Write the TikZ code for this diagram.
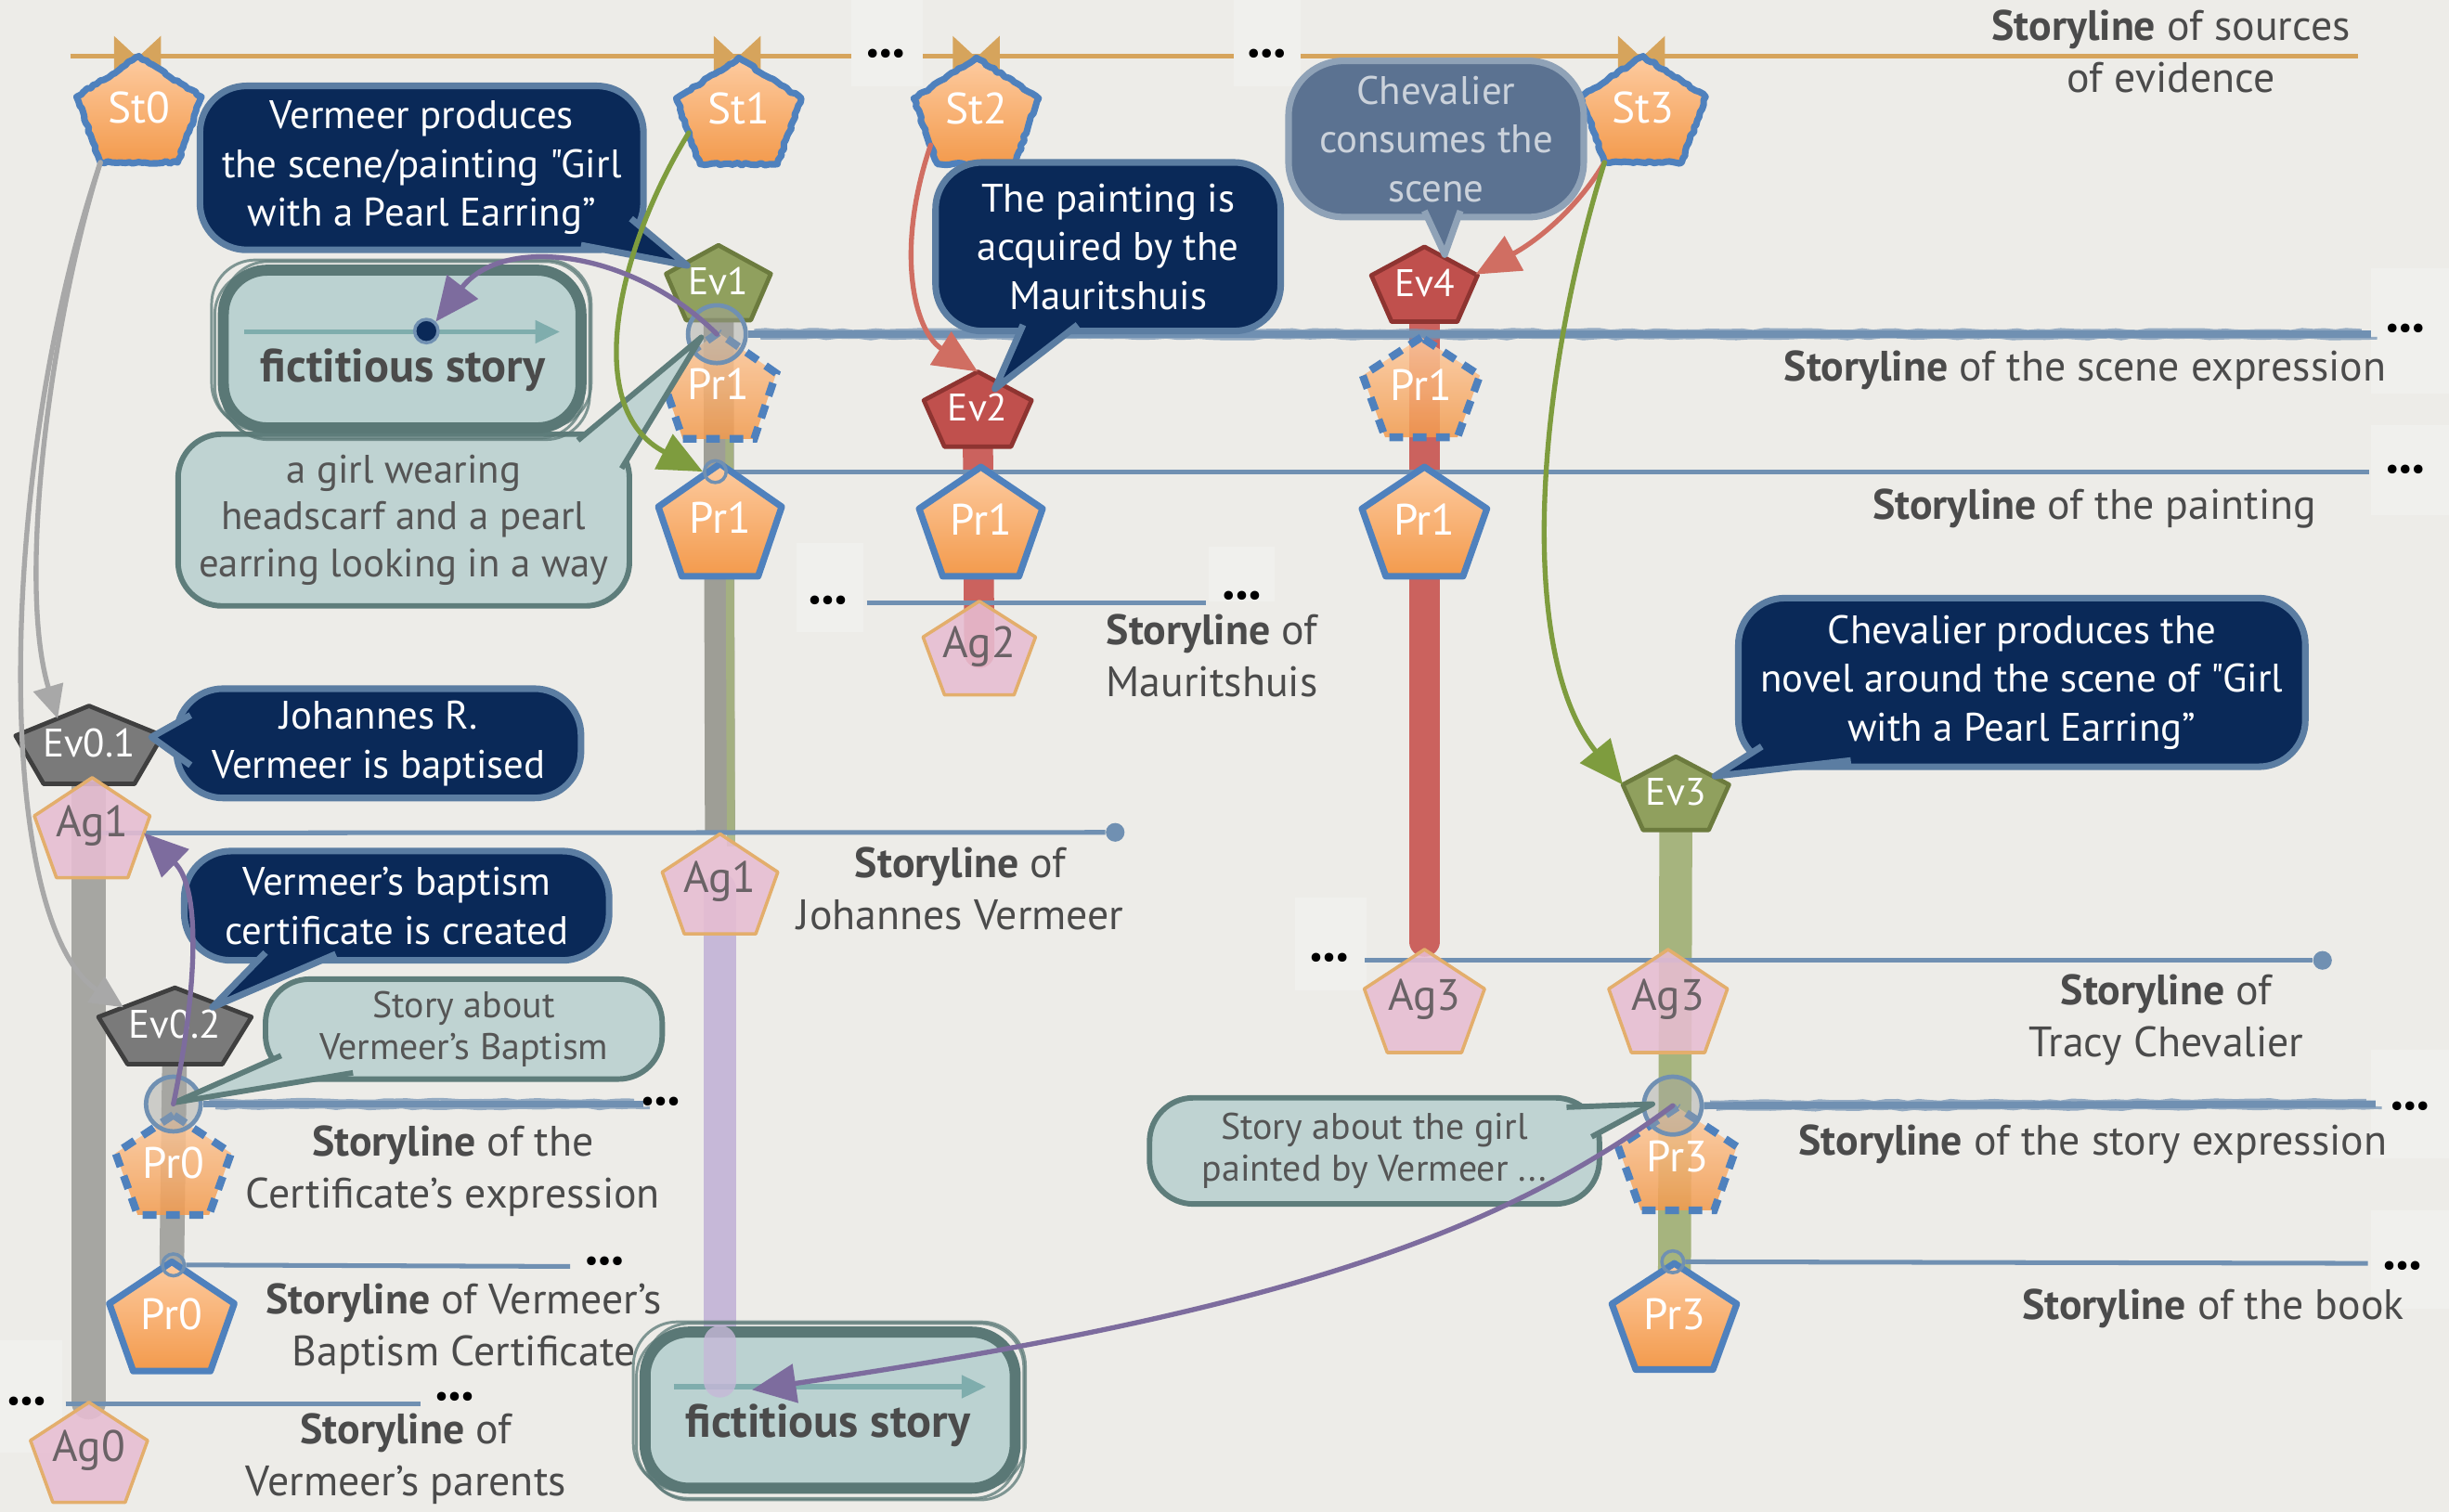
\documentclass[tikz,border=0pt]{standalone}
\usepackage{fontspec}
\setmainfont{PT Sans}[Ligatures=TeXOff]
\usetikzlibrary{shapes.geometric,arrows.meta,decorations.pathmorphing,calc}

\definecolor{paper}{HTML}{EDECE8}
\definecolor{inkgrey}{HTML}{4B4B4B}
\definecolor{slblue}{HTML}{7090B2}
\definecolor{officeblue}{HTML}{4F81BD}
\definecolor{orangetop}{HTML}{FDCBA0}
\definecolor{orangebot}{HTML}{F39A4C}
\definecolor{evredc}{HTML}{C0504D}
\definecolor{evredd}{HTML}{8E3431}
\definecolor{evgreenc}{HTML}{90A05E}
\definecolor{evgreend}{HTML}{6C7B3E}
\definecolor{evgreyc}{HTML}{7A7A7A}
\definecolor{evgreyd}{HTML}{3F3F3F}
\definecolor{agpink}{HTML}{E7BDD2}
\definecolor{agtan}{HTML}{E3AE6C}
\definecolor{agtext}{HTML}{6A6266}
\definecolor{navyc}{HTML}{0A2958}
\definecolor{navyedge}{HTML}{5B7DA2}
\definecolor{slatec}{HTML}{5B7291}
\definecolor{slateedge}{HTML}{8FA2B7}
\definecolor{slatetext}{HTML}{CBD2DB}
\definecolor{tealc}{HTML}{BFD3D2}
\definecolor{tealedge}{HTML}{5E7D7B}
\definecolor{tealtext}{HTML}{555555}
\definecolor{fictfill}{HTML}{BBD2D1}
\definecolor{fictedge}{HTML}{5A7876}
\definecolor{fictarrow}{HTML}{7FADAD}
\definecolor{tancol}{HTML}{D6A45C}
\definecolor{ribgrey}{HTML}{A6A6A2}
\definecolor{ribgreyb}{HTML}{9E9E96}
\definecolor{ribred}{HTML}{CB625E}
\definecolor{ribgreen}{HTML}{A6B47E}
\definecolor{riblav}{HTML}{C6B8D8}
\definecolor{arrgrey}{HTML}{A8A8A8}
\definecolor{arrgreen}{HTML}{7E9C3E}
\definecolor{arrred}{HTML}{D06E62}
\definecolor{arrpurple}{HTML}{7D6C9E}

\pgfdeclarelayer{paperlayer}
\pgfdeclarelayer{background}
\pgfsetlayers{paperlayer,background,main}

\tikzset{
  pent/.style={regular polygon, regular polygon sides=5, minimum size=2cm,
    inner sep=0pt, outer sep=0pt, transform shape},
  stnode/.style={pent, top color=orangetop, bottom color=orangebot,
    draw=officeblue, line width=2.4pt, line join=round, decorate,
    decoration={random steps, segment length=1.5pt, amplitude=0.45pt}},
  stnode text/.style={text=white, font=\fontsize{16}{16}\selectfont},
  prsolid/.style={pent, top color=orangetop, bottom color=orangebot,
    draw=officeblue, line width=2.4pt, line join=round},
  prsolid text/.style={text=white, font=\fontsize{16}{16}\selectfont},
  prdash/.style={pent, top color=orangetop, bottom color=orangebot,
    fill opacity=0.85, draw=officeblue, line width=2.8pt,
    dash pattern=on 5pt off 3.5pt},
  prdash text/.style={text=white, font=\fontsize{16}{16}\selectfont},
  evgreen/.style={pent, fill=evgreenc, draw=evgreend, line width=1.6pt, line join=round},
  evgreen text/.style={text=white, font=\fontsize{14}{14}\selectfont},
  evred/.style={pent, fill=evredc, draw=evredd, line width=1.6pt, line join=round},
  evred text/.style={text=white, font=\fontsize{14}{14}\selectfont},
  evgrey/.style={pent, fill=evgreyc, draw=evgreyd, line width=1.6pt, line join=round},
  evgrey text/.style={text=white, font=\fontsize{14.5}{14.5}\selectfont},
  agnode/.style={pent, fill=agpink, fill opacity=0.88, draw=agtan, line width=1.2pt, line join=round},
  agnode text/.style={text=agtext, font=\fontsize{16}{16}\selectfont},
  navybox/.style={fill=navyc, draw=navyedge, line width=2.4pt, rounded corners=17pt,
    text=white, align=center, inner sep=0pt, font=\fontsize{14.5}{17.8}\selectfont},
  navyptr/.style={fill=navyc, draw=navyedge, line width=2.4pt, line join=round},
  slatebox/.style={fill=slatec, draw=slateedge, line width=2.4pt, rounded corners=20pt,
    text=slatetext, align=center, inner sep=0pt, font=\fontsize{14.5}{17.8}\selectfont},
  slateptr/.style={fill=slatec, draw=slateedge, line width=2.4pt, line join=round},
  tealbox/.style={fill=tealc, draw=tealedge, line width=2pt, rounded corners=16pt,
    text=tealtext, align=center, inner sep=0pt, font=\fontsize{14.5}{17}\selectfont},
  tealptr/.style={fill=tealc, draw=tealedge, line width=2pt, line join=round},
  fictbox/.style={fill=fictfill, draw=fictedge, line width=4pt, rounded corners=16pt, inner sep=0pt},
  fictstroke/.style={fictedge, line width=1pt, opacity=0.75, rounded corners=16pt},
  fictlabel/.style={text=inkgrey, font=\bfseries\fontsize{17}{17}\selectfont, inner sep=0pt},
  fictline/.style={fictarrow, line width=2pt, -{Triangle[length=9pt,width=8pt]}},
  slabel/.style={text=inkgrey, align=center, inner sep=0pt, font=\fontsize{15.5}{19}\selectfont},
  more/.style={text=black, inner sep=0pt, font=\bfseries\fontsize{10.5}{10.5}\selectfont},
  storyline/.style={slblue, line width=1.7pt},
  roughline/.style={slblue, decorate,
    decoration={random steps, segment length=4pt, amplitude=0.35pt}},
  junction/.style={circle, draw=slblue, line width=1.6pt, fill=ribgrey, fill opacity=0.45,
    minimum size=0.74cm, inner sep=0pt},
  smalljunction/.style={circle, draw=slblue, line width=1.2pt, minimum size=0.28cm, inner sep=0pt},
  lineend/.style={circle, fill=slblue, minimum size=0.24cm, inner sep=0pt},
  ribbon/.style={line width=#1, line cap=round},
  crayon/.style={line width=1.8pt, line cap=round},
  bigtip/.style={-{Triangle[length=16pt,width=14pt]}},
  smalltip/.style={-{Triangle[length=12pt,width=11pt]}},
}

% pentagon: name, style, x, y (box centre), width, height, text
\newcommand{\pentnode}[7]{%
  \begin{scope}[shift={({#3},{#4+0.053*#6})}]
    \node[#2, xscale={#5*0.02/1.902}, yscale={#6*0.02/1.809}] (#1) at (0,0) {};
  \end{scope}
  \node[#2 text] (#1-label) at ({#3},{#4-0.02*#6}) {#7};
}

\begin{document}
\begin{tikzpicture}[x=0.02cm, y=-0.02cm]

\begin{pgfonlayer}{paperlayer}
  \fill[paper] (0,0) rectangle (1568,968);
  \foreach \a/\b/\c/\d in {545/0/591/55, 790/0/833/55, 510/348/553/405,
      774/350/816/385, 829/575/875/634, 1518/172/1568/252, 1518/272/1568/330,
      1518/672/1568/742, 1518/775/1568/838, 0/858/40/930}
    \fill[white, opacity=0.22] (\a,\b) rectangle (\c,\d);
\end{pgfonlayer}
\useasboundingbox (0,0) rectangle (1568,968);

% ---------- storyline of sources of evidence ----------
\draw[tancol, line width=1.8pt] (45,36) -- (545,36);
\draw[tancol, line width=1.8pt] (591,36) -- (790,36);
\draw[tancol, line width=1.8pt] (833,36) -- (1510,36);
\foreach \x in {88,472,625,1051} {
  \fill[tancol] (\x-15,23) -- (\x-1,36) -- (\x-15,47) -- cycle;
  \fill[tancol] (\x+15,23) -- (\x+1,36) -- (\x+15,47) -- cycle;
}
\node[more] (m-top1) at (567,36) {•••};
\node[more] (m-top2) at (811,36) {•••};

% ---------- nodes ----------
\pentnode{st0}{stnode}{89}{70}{80}{68}{St0}
\pentnode{st1}{stnode}{473}{71}{80}{68}{St1}
\pentnode{st2}{stnode}{625}{71}{80}{68}{St2}
\pentnode{st3}{stnode}{1052}{70}{80}{68}{St3}

\pentnode{ev1}{evgreen}{460}{181}{67}{48}{Ev1}
\pentnode{ev2}{evred}{626}{262}{69}{48}{Ev2}
\pentnode{ev4}{evred}{912}{182}{68}{48}{Ev4}
\pentnode{ev3}{evgreen}{1073}{508}{68}{47}{Ev3}
\pentnode{ev01}{evgrey}{57}{477}{94}{50}{Ev0.1}
\pentnode{ev02}{evgrey}{112}{657}{98}{49}{Ev0.2}

\pentnode{pr1a}{prdash}{460}{247}{74}{68}{Pr1}
\pentnode{pr1c}{prdash}{910}{248}{75}{64}{Pr1}
\pentnode{pr0a}{prdash}{111}{746}{74}{64}{Pr0}
\pentnode{pr3a}{prdash}{1074}{742}{76}{66}{Pr3}

\pentnode{pr1p}{prsolid}{461}{333}{79}{72}{Pr1}
\pentnode{pr1q}{prsolid}{628}{334}{79}{70}{Pr1}
\pentnode{pr1r}{prsolid}{912}{334}{80}{70}{Pr1}
\pentnode{pr0b}{prsolid}{110}{843}{80}{70}{Pr0}
\pentnode{pr3b}{prsolid}{1072}{843}{80}{68}{Pr3}

\pentnode{ag2}{agnode}{627}{415}{72}{60}{Ag2}
\pentnode{ag1a}{agnode}{461}{566}{74}{64}{Ag1}
\pentnode{ag1b}{agnode}{59}{530}{74}{64}{Ag1}
\pentnode{ag0}{agnode}{57}{930}{75}{64}{Ag0}
\pentnode{ag3a}{agnode}{912}{641}{77}{66}{Ag3}
\pentnode{ag3b}{agnode}{1068}{641}{76}{66}{Ag3}

% ---------- junction circles and line ends ----------
\node[junction] (j-ev1) at (459,214) {};
\node[junction, minimum size=0.7cm] (j-pr0) at (111,707) {};
\node[junction] (j-pr3) at (1071,708) {};
\node[smalljunction] (j-paint) at (458,302) {};
\node[smalljunction] (j-cert) at (111,810) {};
\node[smalljunction] (j-book) at (1071,808) {};
\node[lineend] (jv-end) at (714,533) {};
\node[lineend] (tc-end) at (1487,615) {};

\coordinate (scene-end) at (1518,214);
\coordinate (paint-end) at (1517,302);
\coordinate (maur-start) at (555,386);
\coordinate (maur-end) at (772,386);
\coordinate (tc-start) at (874,615);
\coordinate (cert-end) at (412,707);
\coordinate (bapt-end) at (365,811);
\coordinate (par-start) at (42,899);
\coordinate (par-end) at (269,899);
\coordinate (story-end) at (1521,707);
\coordinate (book-end) at (1516,809);

% ---------- storylines and ribbons (behind nodes) ----------
\begin{pgfonlayer}{background}
  % life ribbons
  \draw[ribgrey, ribbon=12.5pt] (ev01.center) -- (ag0.north);
  \draw[ribgrey, ribbon=9pt] (ev02.center) -- (pr0b.north);
  \draw[ribgreyb, ribbon=11pt, line cap=butt] (ev1.center) -- (ag1a.north);
  \draw[ribgreen, line width=3pt, opacity=0.85] ($(pr1a.south)+(7,0)$) -- ($(ag1a.north)+(7,8)$);
  \draw[riblav, ribbon=12pt] (ag1a.center) -- ($(ag1a.center)+(0,315)$);
  \draw[ribred, ribbon=11pt] (ev2.center) -- (ag2.center);
  \draw[ribred, ribbon=11pt] (ev4.center) -- ($(ag3a.north)+(0,-5)$);
  \draw[ribgreen, ribbon=12pt] (ev3.center) -- (pr3b.center);

  % brushed storylines of the expressions
  \foreach \from/\to in {j-ev1/scene-end, j-pr0/cert-end, j-pr3/story-end} {
    \draw[slblue, line width=2.6pt] (\from.east) -- (\to);
    \draw[roughline, line width=1pt, opacity=0.7] ($(\from.east)+(4,-2.5)$) -- ($(\to)+(-6,-2.5)$);
    \draw[roughline, line width=1pt, opacity=0.7] ($(\from.east)+(8,2.5)$) -- ($(\to)+(4,2.5)$);
  }
  \draw[storyline] (j-paint) -- (paint-end);
  \draw[storyline] (maur-start) -- (maur-end);
  \draw[storyline] (ag1b.center) -- (jv-end);
  \draw[storyline] (tc-start) -- (tc-end);
  \draw[storyline] (j-cert) -- (bapt-end);
  \draw[storyline] (par-start) -- (par-end);
  \draw[storyline] (j-book) -- (book-end);
\end{pgfonlayer}

\node[more] (m-scene) at (1540,212) {•••};
\node[more] (m-paint) at (1540,302) {•••};
\node[more] (m-maur1) at (530,386) {•••};
\node[more] (m-maur2) at (795,383) {•••};
\node[more] (m-tc) at (851,615) {•••};
\node[more] (m-cert) at (423,707) {•••};
\node[more] (m-bapt) at (387,809) {•••};
\node[more] (m-par1) at (17,899) {•••};
\node[more] (m-par2) at (291,896) {•••};
\node[more] (m-story) at (1543,710) {•••};
\node[more] (m-book) at (1538,812) {•••};

% ---------- storyline labels ----------
\node[slabel] (lab-src) at (1390,33) {\textbf{Storyline} of sources\\of evidence};
\node[slabel] (lab-scene) at (1335,237) {\textbf{Storyline} of the scene expression};
\node[slabel] (lab-paint) at (1341,326) {\textbf{Storyline} of the painting};
\node[slabel] (lab-maur) at (776,420) {\textbf{Storyline} of\\Mauritshuis};
\node[slabel] (lab-jv) at (615,569) {\textbf{Storyline} of\\Johannes Vermeer};
\node[slabel] (lab-tc) at (1387,653) {\textbf{Storyline} of\\Tracy Chevalier};
\node[slabel] (lab-cert) at (290,750) {\textbf{Storyline} of the\\Certificate’s expression};
\node[slabel] (lab-bapt) at (297,851) {\textbf{Storyline} of Vermeer’s\\Baptism Certificate};
\node[slabel] (lab-par) at (260,934) {\textbf{Storyline} of\\Vermeer’s parents};
\node[slabel] (lab-story) at (1340,733) {\textbf{Storyline} of the story expression};
\node[slabel] (lab-book) at (1417,838) {\textbf{Storyline} of the book};

% ---------- callouts ----------
\node[navybox, minimum width={284*0.02cm}, minimum height={105*0.02cm}] (c-produce) at (270,107.5)
  {Vermeer produces\\the scene/painting "Girl\\with a Pearl Earring”};
\filldraw[navyptr] (372,157) -- (440,170) -- (404,140);

\node[navybox, minimum width={221*0.02cm}, minimum height={108*0.02cm}] (c-acquire) at (709.5,158)
  {The painting is\\acquired by the\\Mauritshuis};
\filldraw[navyptr] (655,208) -- (637,249) -- (690,208);

\node[slatebox, minimum width={189*0.02cm}, minimum height={100*0.02cm}] (c-consume) at (919.5,89)
  {Chevalier\\consumes the\\scene};
\filldraw[slateptr] (912,135) -- (925,163) -- (935,135);

\node[navybox, minimum width={259*0.02cm}, minimum height={70*0.02cm}] (c-baptised) at (242.5,476)
  {Johannes R.\\Vermeer is baptised};
\filldraw[navyptr] (122,458) -- (97,472) -- (122,490);

\node[navybox, minimum width={272*0.02cm}, minimum height={70*0.02cm}] (c-certificate) at (254,580)
  {Vermeer’s baptism\\certificate is created};
\filldraw[navyptr] (170,610) -- (136,645) -- (215,611);

\node[navybox, minimum width={363*0.02cm}, minimum height={108*0.02cm}] (c-novel) at (1294.5,437)
  {Chevalier produces the\\novel around the scene of "Girl\\with a Pearl Earring”};
\filldraw[navyptr] (1128,478) -- (1098,497) -- (1185,487);

\node[tealbox, minimum width={289*0.02cm}, minimum height={110*0.02cm}] (c-girl) at (258.5,333)
  {a girl wearing\\headscarf and a pearl\\earring looking in a way};
\filldraw[tealptr] (370,282) -- (449,216) -- (398,300);

\node[tealbox, font=\fontsize{13.5}{15.5}\selectfont, minimum width={254*0.02cm}, minimum height={64*0.02cm}] (c-bstory) at (297,659)
  {Story about\\Vermeer’s Baptism};
\filldraw[tealptr] (180,676) -- (112,706) -- (226,687);

\node[tealbox, font=\fontsize{13.5}{15.5}\selectfont, minimum width={288*0.02cm}, minimum height={68*0.02cm}] (c-gstory) at (880,737)
  {Story about the girl\\painted by Vermeer ...};
\filldraw[tealptr] (1003,709) -- (1058,707) -- (1019,728);

% ---------- fictitious story boxes ----------
\node[fictbox, minimum width={229*0.02cm}, minimum height={101*0.02cm}] (f1) at (257.5,223.5) {};
\foreach \dx/\dy in {-4/-3, 3/2, -2/4, 4/-2}
  \draw[fictstroke] ($(f1.north west)+(\dx,\dy)$) rectangle ($(f1.south east)+(-\dy,\dx)$);
\draw[fictline] ($(f1.west)+(17,-11)$) -- ($(f1.east)+(-17,-11)$);
\node[circle, fill=navyc, draw=slblue, line width=1.2pt, minimum size=0.3cm, inner sep=0pt] (f1-dot) at (273,212) {};
\node[fictlabel] (f1-label) at (258,237) {fictitious story};

\node[fictbox, minimum width={237*0.02cm}, minimum height={100*0.02cm}] (f2) at (531.5,903) {};
\foreach \dx/\dy in {-4/-3, 3/2, -2/4, 4/-2}
  \draw[fictstroke] ($(f2.north west)+(\dx,\dy)$) rectangle ($(f2.south east)+(-\dy,\dx)$);
\draw[fictline] ($(f2.west)+(22,-15)$) -- ($(f2.east)+(-22,-15)$);
\node[fictlabel] (f2-label) at (530,913) {fictitious story};
% the painting's storyline continues into the second box
\draw[riblav, ribbon=12pt, opacity=0.8] ($(ag1a.center)+(0,290)$) -- ($(ag1a.center)+(0,315)$);

% ---------- connectors ----------
\draw[arrgrey, crayon, smalltip] (st0.corner 3) .. controls (34,200) and (10,370) .. (ev01.120);
\draw[arrgrey, crayon, smalltip] (st0.corner 3) .. controls (-2,300) and (-5,590) .. (ev02.140);
\draw[arrgreen, crayon, bigtip] (st1.200) .. controls (395,160) and (372,262) .. (j-paint.west);
\draw[arrred, crayon, bigtip] (st2.215) .. controls (573,160) and (585,212) .. (ev2.north);
\draw[arrred, crayon, bigtip] (st3.corner 3) .. controls (1012,130) and (988,152) .. (ev4.20);
\draw[arrgreen, crayon, bigtip] (st3.corner 3) .. controls (982,250) and (972,420) .. (ev3.corner 2);
\draw[arrpurple, crayon, bigtip] (j-ev1.center) .. controls (405,160) and (322,150) .. (f1-dot.north east);
\draw[arrpurple, crayon, bigtip] (j-pr0.center) .. controls (125,640) and (130,570) .. (ag1b.east);
\draw[arrpurple, crayon, bigtip] (j-pr3.center) .. controls (960,790) and (820,840) .. ($(f2.west)+(72,-13)$);

\end{tikzpicture}
\end{document}
